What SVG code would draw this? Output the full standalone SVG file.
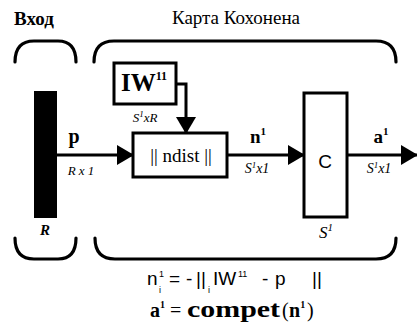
<svg xmlns="http://www.w3.org/2000/svg" width="417" height="328" viewBox="0 0 417 328">
<style>
.br{fill:none;stroke:#000;stroke-width:3.2;stroke-linecap:round}
.box{fill:#fff;stroke:#000;stroke-width:3}
.ln{fill:none;stroke:#000;stroke-width:3}
text{fill:#000}
.ser{font-family:'Liberation Serif','Times New Roman','DejaVu Serif',serif}
.sans{font-family:'Liberation Sans',Arial,sans-serif}
.b{font-weight:bold}
.it{font-style:italic}
</style>
<defs>
<marker id="ah" markerWidth="17" markerHeight="20" refX="16" refY="10" orient="auto" markerUnits="userSpaceOnUse">
<path d="M0,0 L17,10 L0,20 Z" fill="#000"/>
</marker>
</defs>
<rect width="417" height="328" fill="#fff"/>
<g id="titles">
<text class="ser b" x="14" y="25" font-size="19">Вход</text>
<text class="ser" x="236" y="24" font-size="19" text-anchor="middle">Карта Кохонена</text>
</g>
<g id="brackets">
<path class="br" d="M15,62 Q15,41 34,41 L58,41 Q76,41 76,62"/>
<path class="br" d="M94,62 Q94,41 114,41 L376,41 Q396,41 396,62"/>
<path class="br" d="M15,238 Q15,259 34,259 L58,259 Q76,259 76,238"/>
<path class="br" d="M95,238 Q95,259 115,259 L376,259 Q396,259 396,238"/>
</g>
<g id="connectors">
<line class="ln" x1="57" y1="155" x2="133" y2="155" marker-end="url(#ah)"/>
<polyline class="ln" points="176,84 186,84 186,133" marker-end="url(#ah)"/>
<line class="ln" x1="227" y1="155" x2="304" y2="155" marker-end="url(#ah)"/>
<line class="ln" x1="347" y1="155" x2="417" y2="155" marker-end="url(#ah)"/>
</g>
<g id="input">
<rect x="34" y="91" width="23" height="127" fill="#000"/>
<text class="ser it b" x="45" y="235" font-size="15" text-anchor="middle">R</text>
<text class="ser b" x="74" y="143" font-size="20" text-anchor="middle">p</text>
<text class="ser it" x="81" y="175" font-size="13" text-anchor="middle">R x 1</text>
</g>
<g id="iw">
<rect class="box" x="114" y="63" width="62" height="41"/>
<text class="ser b" x="121" y="91" font-size="25">IW<tspan font-size="12" dy="-11">11</tspan></text>
<text class="ser it" x="145" y="122" font-size="13" text-anchor="middle">S<tspan font-size="9" dy="-5">1</tspan><tspan dy="5">xR</tspan></text>
</g>
<g id="ndist">
<rect class="box" x="133" y="133" width="94" height="44"/>
<text class="ser" x="181" y="162" font-size="19" text-anchor="middle">|| ndist ||</text>
<text class="ser b" x="258" y="143" font-size="19" text-anchor="middle">n<tspan font-size="11" dy="-8">1</tspan></text>
<text class="ser it" x="257" y="173" font-size="14" text-anchor="middle">S<tspan font-size="9" dy="-5">1</tspan><tspan dy="5">x1</tspan></text>
</g>
<g id="compet">
<rect class="box" x="304" y="93" width="43" height="124"/>
<text class="sans" x="325" y="168" font-size="19" text-anchor="middle">C</text>
<text class="ser it" x="326" y="238" font-size="17" text-anchor="middle">S<tspan font-size="11" dy="-7">1</tspan></text>
<text class="ser b" x="381" y="143" font-size="19" text-anchor="middle">a<tspan font-size="11" dy="-8">1</tspan></text>
<text class="ser it" x="379" y="173" font-size="14" text-anchor="middle">S<tspan font-size="9" dy="-5">1</tspan><tspan dy="5">x1</tspan></text>
</g>
<g id="formula">
<text class="sans" x="147" y="285" font-size="19">n</text>
<text class="sans" x="159" y="277" font-size="9">1</text>
<text class="sans" x="159" y="293" font-size="9">i</text>
<text class="sans" x="169" y="285" font-size="19">=</text>
<text class="sans" x="186" y="285" font-size="19">-</text>
<text class="sans" x="196" y="285" font-size="19">||</text>
<text class="sans" x="208" y="293" font-size="9">i</text>
<text class="sans" x="213" y="285" font-size="19">IW</text>
<text class="sans" x="238" y="277" font-size="9">11</text>
<text class="sans" x="262" y="285" font-size="19">-</text>
<text class="sans" x="275" y="285" font-size="19">p</text>
<text class="sans" x="312" y="285" font-size="19">||</text>
<text class="ser b" x="150" y="317" font-size="20">a<tspan font-size="10" dy="-9">1</tspan></text>
<text class="ser" x="170" y="317" font-size="20">=</text>
<text class="ser b" x="187" y="317" font-size="24" textLength="93" lengthAdjust="spacingAndGlyphs">compet</text>
<text class="ser" x="282" y="317" font-size="20">(</text>
<text class="ser b" x="289" y="317" font-size="20">n<tspan font-size="10" dy="-9">1</tspan></text>
<text class="ser" x="307" y="317" font-size="20">)</text>
</g>
</svg>
